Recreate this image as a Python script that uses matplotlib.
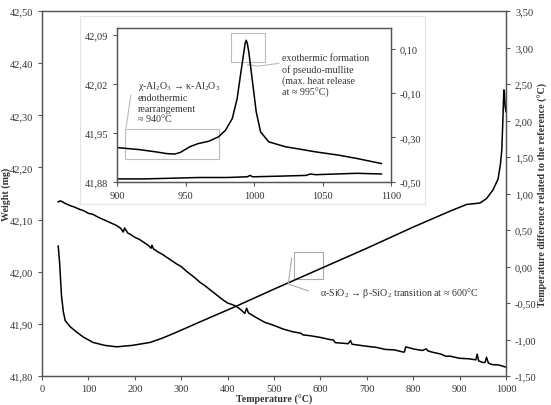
import matplotlib
matplotlib.use("Agg")
import matplotlib.pyplot as plt
from matplotlib.patches import Rectangle

plt.rcParams['font.family'] = ['Liberation Serif', 'DejaVu Serif']
plt.rcParams['mathtext.fontset'] = 'custom'
plt.rcParams['mathtext.rm'] = 'Liberation Serif'
plt.rcParams['mathtext.it'] = 'Liberation Serif:italic'

# ================== DATA ==================
# weight (TG) curve, left axis
tg_temp = [35, 40, 50, 60, 70, 80, 90, 100, 110, 120, 130, 140, 150, 160, 170, 175, 178,
           185, 190, 200, 210, 220, 230, 235, 237, 240, 250, 260, 270, 280, 290, 300, 310,
           320, 330, 340, 350, 360, 370, 380, 390, 400, 410, 420, 430, 437, 441, 445, 460,
           480, 500, 520, 540, 558, 562, 580, 600, 620, 628, 632, 660, 665, 668, 700, 720,
           740, 760, 778, 781, 784, 800, 820, 828, 832, 840, 860, 870, 880, 900, 920, 935,
           938, 941, 950, 955, 958, 962, 970, 985, 1000]
tg_weight = [42.134, 42.136, 42.131, 42.127, 42.124, 42.120, 42.117, 42.112, 42.110, 42.105,
             42.101, 42.097, 42.093, 42.089, 42.083, 42.076, 42.084, 42.074, 42.072, 42.066,
             42.062, 42.056, 42.050, 42.045, 42.051, 42.044, 42.038, 42.033, 42.027, 42.021,
             42.015, 42.010, 42.002, 41.995, 41.988, 41.980, 41.974, 41.967, 41.960, 41.953,
             41.946, 41.940, 41.937, 41.933, 41.926, 41.920, 41.930, 41.921, 41.913, 41.903,
             41.897, 41.890, 41.885, 41.882, 41.879, 41.877, 41.874, 41.870, 41.869, 41.864,
             41.862, 41.868, 41.861, 41.857, 41.855, 41.851, 41.850, 41.846, 41.846, 41.856,
             41.852, 41.849, 41.852, 41.848, 41.846, 41.842, 41.838, 41.838, 41.834, 41.833,
             41.831, 41.842, 41.829, 41.826, 41.826, 41.836, 41.825, 41.822, 41.821, 41.817]

# temperature difference (DTA) curve, right axis
dta_temp = [35, 38, 42, 46, 50, 60, 75, 90, 110, 135, 161, 195, 233, 260, 290, 340, 380,
            420, 500, 600, 700, 800, 880, 915, 930, 944, 958, 972, 983, 988, 991, 993,
            994.5, 995.5, 996.5, 998, 1000]
dta_diff = [0.28, 0.05, -0.40, -0.62, -0.74, -0.82, -0.90, -0.97, -1.04, -1.08, -1.10,
            -1.08, -1.04, -0.98, -0.90, -0.76, -0.65, -0.54, -0.31, -0.03, 0.25, 0.54,
            0.76, 0.85, 0.86, 0.87, 0.93, 1.05, 1.20, 1.40, 1.60, 1.95, 2.25, 2.42, 2.40,
            2.20, 2.12]

# inset: zoom 900-1100 degC
inset_dta_temp = [900, 916, 928, 936, 942, 946, 953, 959, 967, 974, 979, 984, 987.6, 990,
                  992.5, 993.4, 994.2, 995.0, 996.1, 998.5, 1001.5, 1004.7, 1010.7, 1022.8,
                  1030.6, 1044.7, 1061.7, 1075, 1093]
inset_dta = [-0.346, -0.355, -0.365, -0.373, -0.375, -0.368, -0.342, -0.328, -0.317, -0.297,
             -0.268, -0.215, -0.124, -0.019, 0.086, 0.125, 0.139, 0.125, 0.086, -0.034,
             -0.184, -0.275, -0.320, -0.342, -0.350, -0.365, -0.380, -0.395, -0.418]
inset_tg_temp = [900, 920, 940, 960, 980, 995, 997, 999, 1020, 1038, 1041, 1045, 1060, 1075, 1093]
inset_tg = [41.884, 41.884, 41.885, 41.886, 41.886, 41.887, 41.889, 41.887, 41.888, 41.889,
            41.891, 41.890, 41.891, 41.892, 41.891]

x_ticks = [0, 100, 200, 300, 400, 500, 600, 700, 800, 900, 1000]
w_ticks = [41.80, 41.90, 42.00, 42.10, 42.20, 42.30, 42.40, 42.50]
w_labels = ['41,80', '41,90', '42,00', '42,10', '42,20', '42,30', '42,40', '42,50']
d_ticks = [-1.5, -1.0, -0.5, 0.0, 0.5, 1.0, 1.5, 2.0, 2.5, 3.0, 3.5]
d_labels = ['-1,50', '-1,00', '-0,50', '0,00', '0,50', '1,00', '1,50', '2,00', '2,50',
            '3,00', '3,50']
inset_x_ticks = [900, 950, 1000, 1050, 1100]
inset_w_ticks = [41.88, 41.95, 42.02, 42.09]
inset_w_labels = ['41,88', '41,95', '42,02', '42,09']
inset_d_ticks = [-0.5, -0.3, -0.1, 0.1]
inset_d_labels = ['-0,50', '-0,30', '-0,10', '0,10']

# ================== PLOT ==================
spine_c = '#555555'
text_c = '#333333'
fs_tick = 7.5
fs_note = 7.2


def style(a):
    for s in a.spines.values():
        s.set_color(spine_c)
        s.set_linewidth(0.9)
    a.tick_params(direction='out', length=3, width=0.8, color=spine_c,
                  labelsize=fs_tick, labelcolor=text_c)


fig = plt.figure(figsize=(5.51, 4.06), dpi=100)

ax = fig.add_axes([0.0762, 0.0714, 0.8421, 0.8990])
ax.plot(tg_temp, tg_weight, color='black', linewidth=1.1)
ax.set_xlim(0, 1000)
ax.set_ylim(41.80, 42.50)
ax.set_xticks(x_ticks)
ax.set_yticks(w_ticks)
ax.set_yticklabels(w_labels)
style(ax)
ax.tick_params(axis='x', pad=3)
ax.set_xlabel('Temperature (°C)', fontsize=7.2, fontweight='bold', color=text_c)
ax.set_ylabel('Weight (mg)', fontsize=7.2, fontweight='bold', color=text_c)
ax.xaxis.set_label_coords(0.5, -0.05)
ax.yaxis.set_label_coords(-0.066, 0.5)

ax2 = ax.twinx()
ax2.plot(dta_temp, dta_diff, color='black', linewidth=1.1)
ax2.set_ylim(-1.5, 3.5)
ax2.set_yticks(d_ticks)
ax2.set_yticklabels(d_labels)
style(ax2)
ax2.set_ylabel('Temperature difference related to the reference (°C)', fontsize=7.2,
               fontweight='bold', color=text_c)
ax2.yaxis.set_label_coords(1.068, 0.5)

# alpha -> beta quartz annotation
ax2.add_patch(Rectangle((543.7, -0.171), 62.6, 0.374, fill=False, edgecolor='#aaaaaa',
                        linewidth=0.8))
ax2.plot([538.1, 530.8, 573.9], [0.112, -0.24, -0.332], color='#aaaaaa', linewidth=0.8)
ax2.text(599, -0.353, r'α-SiO$_2$ → β-SiO$_2$ transition at ≈ 600°C', fontsize=fs_note,
         color=text_c, va='center', ha='left')

# white panel behind the inset
panel = fig.add_axes([0.1452, 0.4951, 0.6261, 0.4631])
panel.set_xticks([])
panel.set_yticks([])
for s in panel.spines.values():
    s.set_color('#e4e4e4')
    s.set_linewidth(0.8)

axi = fig.add_axes([0.2129, 0.55, 0.4967, 0.3778])
axi.plot(inset_tg_temp, inset_tg, color='black', linewidth=1.1)
axi.set_xlim(900, 1100)
axi.set_ylim(41.88, 42.099)
axi.set_xticks(inset_x_ticks)
axi.set_yticks(inset_w_ticks)
axi.set_yticklabels(inset_w_labels)
style(axi)

axi2 = axi.twinx()
axi2.plot(inset_dta_temp, inset_dta, color='black', linewidth=1.1)
axi2.set_ylim(-0.50, 0.193)
axi2.set_yticks(inset_d_ticks)
axi2.set_yticklabels(inset_d_labels)
style(axi2)

# inset annotations (left-axis data coords)
axi.add_patch(Rectangle((905.6, 41.912), 68.7, 0.043, fill=False, edgecolor='#bbbbbb',
                        linewidth=0.8))
axi.add_patch(Rectangle((983.1, 42.051), 24.8, 0.0415, fill=False, edgecolor='#bbbbbb',
                        linewidth=0.8))
axi.plot([906.4, 909.8], [41.9566, 42.0029], color='#bbbbbb', linewidth=0.8)
axi.plot([995, 1003, 1018], [42.047, 42.045, 42.049], color='#bbbbbb', linewidth=0.8)

note1 = [r'χ-Al$_2$O$_3$ → κ-Al$_2$O$_3$', 'endothermic', 'rearrangement', '≈ 940°C']
for line, y in zip(note1, [42.0172, 42.0006, 41.9849, 41.9706]):
    axi.text(915.1, y, line, fontsize=fs_note, color=text_c, va='center', ha='left')
note2 = ['exothermic formation', 'of pseudo-mullite', '(max. heat release', 'at ≈ 995°C)']
for line, y in zip(note2, [42.0578, 42.0410, 42.0243, 42.0078]):
    axi.text(1020.1, y, line, fontsize=fs_note, color=text_c, va='center', ha='left')

fig.savefig('out.png', dpi=100)
